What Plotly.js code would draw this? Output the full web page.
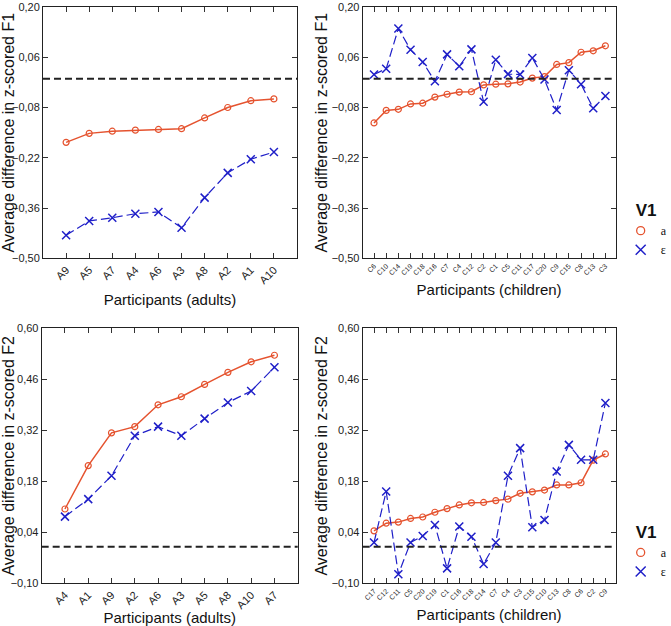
<!DOCTYPE html>
<html>
<head>
<meta charset="utf-8">
<script src="https://cdn.plot.ly/plotly-3.0.1.min.js"></script>
<style>
body { margin: 0; background: #fff; }
#chart { width: 671px; height: 626px; }
</style>
</head>
<body>
<div id="chart"></div>
<script>
// F1, adults
var adultsF1 = ["A9", "A5", "A7", "A4", "A6", "A3", "A8", "A2", "A1", "A10"];
var f1AdultsA = [-0.177, -0.152, -0.146, -0.143, -0.141, -0.139, -0.109, -0.080, -0.061, -0.056];
var f1AdultsE = [-0.436, -0.396, -0.387, -0.376, -0.371, -0.415, -0.331, -0.262, -0.224, -0.204];

// F1, children
var childrenF1 = ["C6", "C10", "C14", "C19", "C18", "C16", "C7", "C4", "C12", "C2",
    "C1", "C5", "C11", "C17", "C20", "C9", "C15", "C8", "C13", "C3"];
var f1ChildA = [-0.123, -0.088, -0.085, -0.070, -0.068, -0.051, -0.043, -0.037, -0.036, -0.017,
    -0.015, -0.014, -0.009, 0.002, 0.006, 0.040, 0.045, 0.074, 0.078, 0.092];
var f1ChildE = [0.012, 0.028, 0.140, 0.081, 0.047, -0.007, 0.068, 0.035, 0.082, -0.064,
    0.053, 0.013, 0.012, 0.058, -0.002, -0.087, 0.024, -0.015, -0.082, -0.048];

// F2, adults
var adultsF2 = ["A4", "A1", "A9", "A2", "A6", "A3", "A5", "A8", "A10", "A7"];
var f2AdultsA = [0.104, 0.223, 0.313, 0.330, 0.390, 0.412, 0.446, 0.479, 0.508, 0.526];
var f2AdultsE = [0.083, 0.131, 0.195, 0.305, 0.330, 0.305, 0.352, 0.396, 0.428, 0.493];

// F2, children
var childrenF2 = ["C17", "C12", "C11", "C5", "C20", "C19", "C1", "C16", "C18", "C14",
    "C7", "C4", "C3", "C15", "C10", "C13", "C8", "C6", "C2", "C9"];
var f2ChildA = [0.044, 0.065, 0.068, 0.078, 0.082, 0.095, 0.105, 0.115, 0.121, 0.122,
    0.127, 0.131, 0.147, 0.151, 0.156, 0.170, 0.170, 0.176, 0.238, 0.255];
var f2ChildE = [0.012, 0.152, -0.075, 0.012, 0.030, 0.060, -0.059, 0.056, 0.028, -0.047,
    0.012, 0.195, 0.271, 0.054, 0.074, 0.207, 0.280, 0.239, 0.239, 0.395];

// y ticks
var ticksF1 = [-0.50, -0.36, -0.22, -0.08, 0.06, 0.20];
var ticksF2 = [-0.10, 0.04, 0.18, 0.32, 0.46, 0.60];

var groupNames = ["a", "\u03b5"];
var refLine = 0;

var red = "#e5532f";
var blue = "#1f1fc8";

var redMarker = {symbol: "circle-open", size: 6, color: red, line: {width: 1.2}};
var blueMarker = {symbol: "x-thin-open", size: 8, color: blue, line: {width: 1.5, color: blue}};

function pair(x, a, e, xa, ya) {
    return [{
        x: x, y: a, xaxis: xa, yaxis: ya,
        type: "scatter", mode: "lines+markers", name: groupNames[0], showlegend: false,
        line: {color: red, width: 1.5},
        marker: redMarker
    }, {
        x: x, y: e, xaxis: xa, yaxis: ya,
        type: "scatter", mode: "lines+markers", name: groupNames[1], showlegend: false,
        line: {color: blue, width: 1.2, dash: "9px,4px"},
        marker: blueMarker
    }];
}

// legend entries only (symbol without the line, like the original)
function keys(legend) {
    return [
        {x: [null], y: [null], type: "scatter", mode: "markers", name: groupNames[0],
            legend: legend, marker: {symbol: "circle-open", size: 8, color: red, line: {width: 1.3}}},
        {x: [null], y: [null], type: "scatter", mode: "markers", name: groupNames[1],
            legend: legend, marker: {symbol: "x-thin-open", size: 10, color: blue, line: {width: 1.5, color: blue}}}
    ];
}

var data = []
    .concat(pair(adultsF1, f1AdultsA, f1AdultsE, "x", "y"))
    .concat(pair(childrenF1, f1ChildA, f1ChildE, "x2", "y2"))
    .concat(pair(adultsF2, f2AdultsA, f2AdultsE, "x3", "y3"))
    .concat(pair(childrenF2, f2ChildA, f2ChildE, "x4", "y4"))
    .concat(keys("legend"))
    .concat(keys("legend2"));

var sans = "Liberation Sans, Arial, sans-serif";

function xAx(domain, anchor, n, fsize, label) {
    return {
        domain: domain, anchor: anchor, type: "category",
        range: n === 10 ? [-1, 10] : [-0.93, 19.83],
        showline: true, linecolor: "#222", linewidth: 1, mirror: "allticks",
        ticks: "inside", ticklen: 5, tickcolor: "#333", showgrid: false, zeroline: false,
        tickangle: -45, tickfont: {size: fsize, color: "#222"},
        title: {text: label, font: {size: 15, color: "#111"}, standoff: 9}
    };
}

function yAx(domain, anchor, tv, label) {
    return {
        domain: domain, anchor: anchor, range: [tv[0], tv[tv.length - 1]],
        tickmode: "array", tickvals: tv, tickformat: ".2f", ticklabeloverflow: "allow",
        showline: true, linecolor: "#222", linewidth: 1, mirror: "allticks",
        ticks: "inside", ticklen: 5, tickcolor: "#333", showgrid: false, zeroline: false,
        tickfont: {size: 11, color: "#222"},
        title: {text: label, font: {size: 16, color: "#111"}, standoff: 0}
    };
}

function zero(xa, ya) {
    return {
        type: "line", xref: xa + " domain", yref: ya,
        x0: 0, x1: 1, y0: refLine, y1: refLine,
        line: {color: "#222", width: 2, dash: "7px,4px"}
    };
}

function legendBox(y) {
    return {
        x: 0.925, xanchor: "left", y: y, yanchor: "top",
        bgcolor: "rgba(0,0,0,0)",
        title: {text: "<b>V1</b>", side: "top center", font: {family: sans, size: 17, color: "#111"}},
        font: {family: "Liberation Serif, serif", size: 12, color: "#111"}
    };
}

var topRow = [0.5874, 0.9888];
var bottomRow = [0.0682, 0.4756];

var layout = {
    width: 671, height: 626,
    margin: {l: 0, r: 0, t: 0, b: 0, autoexpand: false},
    paper_bgcolor: "#fff", plot_bgcolor: "#fff",
    font: {family: sans, color: "#111"},
    separators: ",.",
    xaxis: xAx([0.0641, 0.4426], "y", 10, 11, "Participants (adults)"),
    yaxis: yAx(topRow, "x", ticksF1, "Average difference in z-scored F1"),
    xaxis2: xAx([0.5405, 0.9173], "y2", 20, 7, "Participants (children)"),
    yaxis2: yAx(topRow, "x2", ticksF1, "Average difference in z-scored F1"),
    xaxis3: xAx([0.0621, 0.4437], "y3", 10, 11, "Participants (adults)"),
    yaxis3: yAx(bottomRow, "x3", ticksF2, "Average difference in z-scored F2"),
    xaxis4: xAx([0.5405, 0.9173], "y4", 20, 7, "Participants (children)"),
    yaxis4: yAx(bottomRow, "x4", ticksF2, "Average difference in z-scored F2"),
    shapes: [zero("x", "y"), zero("x2", "y2"), zero("x3", "y3"), zero("x4", "y4")],
    legend: legendBox(0.690),
    legend2: legendBox(0.176)
};

Plotly.newPlot("chart", data, layout, {displayModeBar: false, staticPlot: true});
</script>
</body>
</html>
